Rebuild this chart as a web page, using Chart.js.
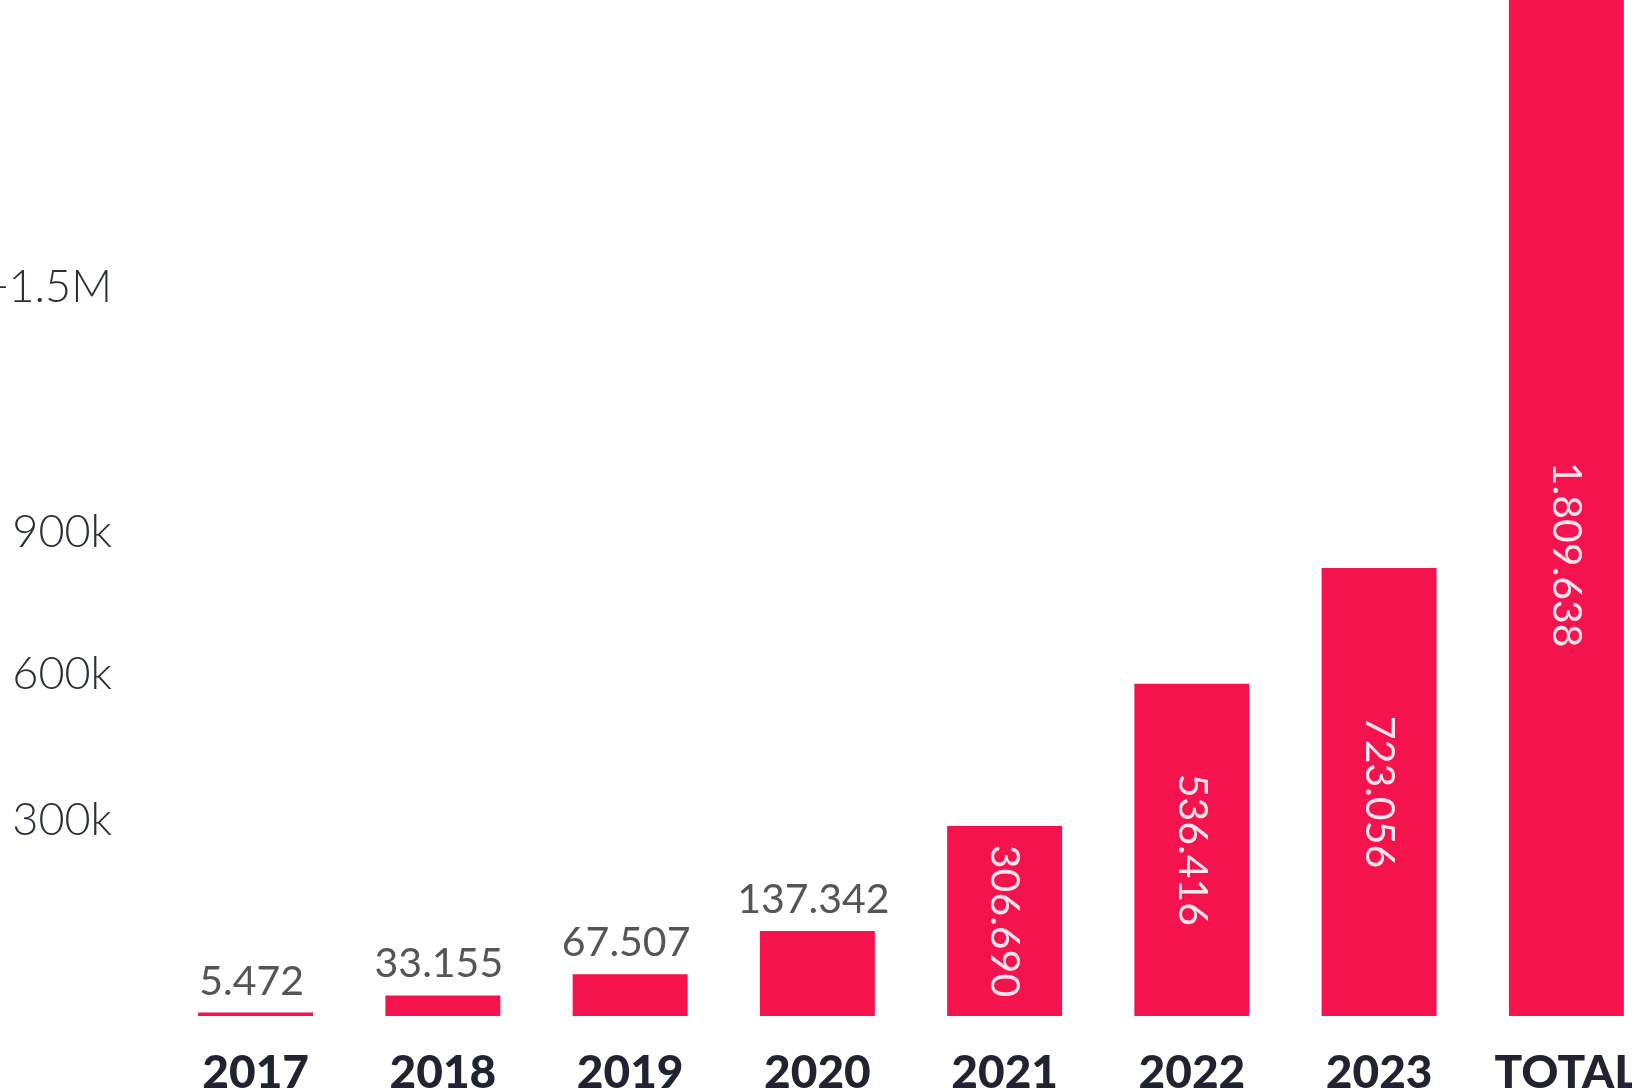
<!DOCTYPE html>
<html>
<head>
<meta charset="utf-8">
<script src="https://cdn.jsdelivr.net/npm/chart.js@4"></script>
<style>
  html, body { margin: 0; padding: 0; background: #ffffff; overflow: hidden; }
  #wrap { width: 1660px; height: 1089px; }
</style>
</head>
<body>
<div id="wrap"><canvas id="usersChart" width="1660" height="1089"></canvas></div>
<script>
// values
const years = ['2017', '2018', '2019', '2020', '2021', '2022', '2023', 'TOTAL'];
const users = [5472, 33155, 67507, 137342, 306690, 536416, 723056, 1809638];
// tick marks sit at these values, labelled loosely
const tickValues = [315000, 552000, 781000, 1176000];
const tickLabels = ['300k', '600k', '900k', '+1.5M'];

const barColor = '#f5134d';

function dotted(v) {
    return String(v).replace(/\B(?=(\d{3})+(?!\d))/g, '.');
}

// value labels: above small bars, rotated inside the tall ones
const valueLabels = {
    id: 'valueLabels',
    afterDatasetsDraw(chart) {
        const ctx = chart.ctx;
        const area = chart.chartArea;
        const meta = chart.getDatasetMeta(0);
        meta.data.forEach(function(bar, i) {
            const text = dotted(users[i]);
            const clipped = bar.y < area.top;
            const top = Math.max(bar.y, area.top);
            const h = bar.base - top;
            ctx.save();
            ctx.font = '400 41px Lato';
            const w = ctx.measureText(text).width;
            if (h > w + 20) {
                // the clipped total bar keeps its label a bit lower
                const mid = clipped ? top + h * 0.546 : top + h / 2;
                ctx.translate(bar.x, mid);
                ctx.rotate(Math.PI / 2);
                ctx.fillStyle = '#ffe6ee';
                ctx.textAlign = 'center';
                ctx.textBaseline = 'middle';
                ctx.fillText(text, 0, 0);
            } else {
                ctx.fillStyle = '#555555';
                ctx.textAlign = 'center';
                ctx.textBaseline = 'alphabetic';
                ctx.fillText(text, bar.x - 4, bar.y - 18);
            }
            ctx.restore();
        });
    }
};

const ctx = document.getElementById('usersChart').getContext('2d');
new Chart(ctx, {
    type: 'bar',
    data: {
        labels: years,
        datasets: [{
            data: users,
            backgroundColor: barColor,
            borderWidth: 0,
            barPercentage: 0.614,
            categoryPercentage: 1.0
        }]
    },
    options: {
        responsive: false,
        animation: false,
        layout: { padding: 0 },
        plugins: {
            legend: { display: false },
            tooltip: { enabled: false }
        },
        scales: {
            x: {
                grid: { display: false, drawTicks: false },
                border: { display: false },
                ticks: {
                    color: '#1f2430',
                    font: { family: 'Lato', size: 46, weight: '900' },
                    padding: 30,
                    maxRotation: 0
                },
                afterFit: function(scale) {
                    scale.height = 73;
                    scale.paddingLeft = 0;
                    scale.paddingRight = 0;
                }
            },
            y: {
                min: 0,
                max: 1640000,
                grid: { display: false, drawTicks: false },
                border: { display: false },
                afterBuildTicks: function(scale) {
                    scale.ticks = tickValues.map(v => ({ value: v }));
                },
                ticks: {
                    color: '#2a2f3a',
                    font: { family: 'Lato', size: 45, weight: '300' },
                    padding: 50,
                    callback: function(value, index) { return tickLabels[index]; }
                },
                afterFit: function(scale) {
                    scale.width = 162;
                    scale.paddingTop = 0;
                    scale.paddingBottom = 0;
                }
            }
        }
    },
    plugins: [valueLabels]
});
</script>
</body>
</html>
